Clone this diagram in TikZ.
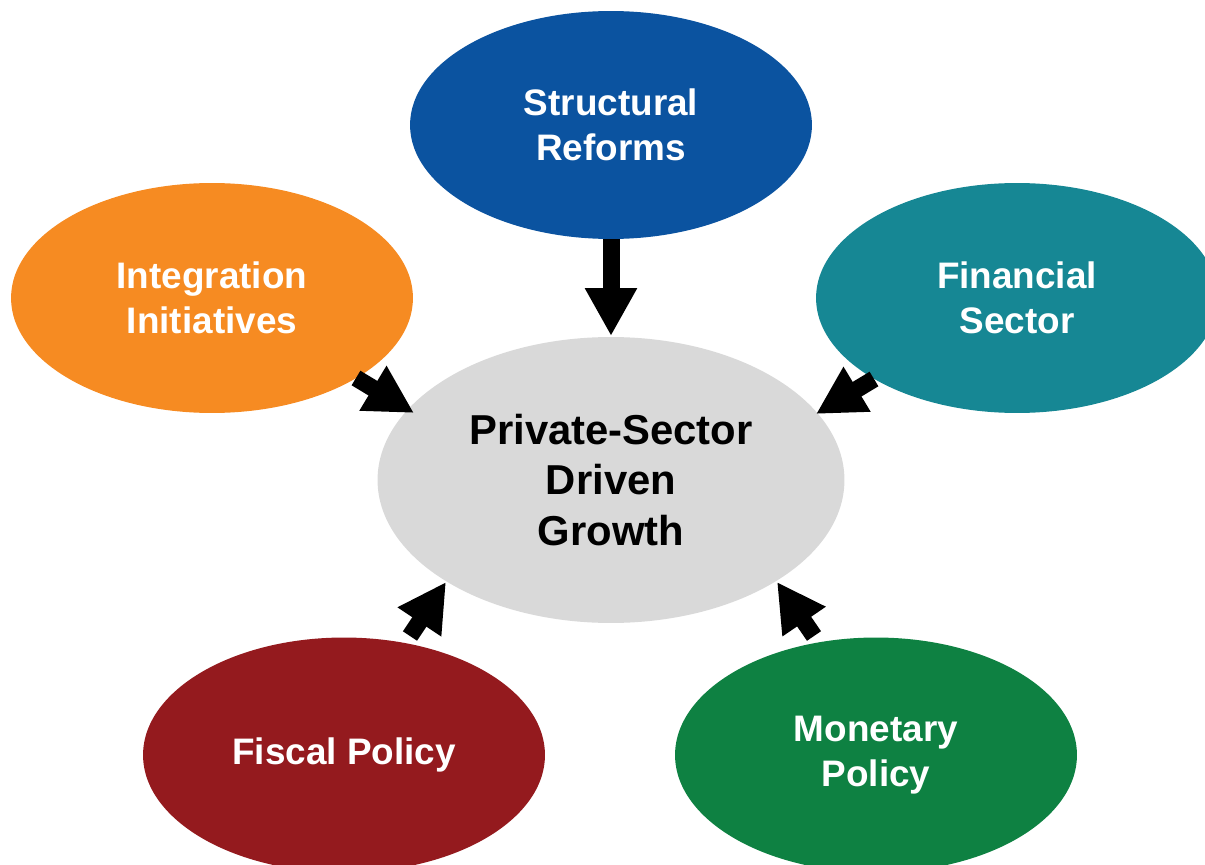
\documentclass[tikz,border=0pt]{standalone}
\usepackage{fontspec}
\setmainfont{Liberation Sans}
\usetikzlibrary{shapes.geometric,arrows.meta}
\definecolor{reformblue}{HTML}{0B53A0}
\definecolor{integorange}{HTML}{F68B22}
\definecolor{finteal}{HTML}{168794}
\definecolor{coregray}{HTML}{D9D9D9}
\definecolor{fiscalred}{HTML}{941A1E}
\definecolor{monetgreen}{HTML}{0E8142}
\tikzset{
  pillar/.style={ellipse, inner sep=0pt, minimum width=8.04cm, minimum height=4.6cm,
    text=white, font=\bfseries\fontsize{21}{25.5}\selectfont, align=center},
  core/.style={ellipse, fill=coregray, inner sep=0pt, minimum width=9.34cm, minimum height=5.72cm,
    text=black, font=\bfseries\fontsize{23.8}{28.5}\selectfont, align=center},
  push/.style={line width=0.34cm, line cap=butt, -{Triangle[width=0.98cm,length=0.96cm]}}
}
\begin{document}
\begin{tikzpicture}[x=0.02cm,y=-0.02cm]
\useasboundingbox (0,0) rectangle (1205,865);
\begin{scope}
\clip (0,0) rectangle (1205,865);
% outer policy ellipses
\node[pillar, fill=reformblue, minimum height=4.56cm] (sr) at (611,125) {Structural\\Reforms};
\node[pillar, fill=integorange] (ii) at (212,298) {Integration\\Initiatives};
\node[pillar, fill=finteal] (fs) at (1017,298) {Financial\\Sector};
\node[pillar, fill=fiscalred, minimum height=4.7cm] (fp) at (344,755) {Fiscal Policy};
\node[pillar, fill=monetgreen, minimum height=4.7cm] (mp) at (876,755) {Monetary\\Policy};
% central goal
\node[core] (pc) at (611,480) {Private-Sector\\Driven\\Growth};
\end{scope}
% arrow end points
\coordinate (iiT) at (356,378);
\coordinate (iiH) at (414,413);
\coordinate (fsT) at (874,379);
\coordinate (fsH) at (816,414);
\coordinate (fpT) at (410,636);
\coordinate (fpH) at (446,582);
\coordinate (mpT) at (814,636);
\coordinate (mpH) at (777,582);
\coordinate (srH) at (611,336);
% arrows into the centre
\draw[push] (sr.south) -- (srH);
\draw[push] (iiT) -- (iiH);
\draw[push] (fsT) -- (fsH);
\draw[push] (fpT) -- (fpH);
\draw[push] (mpT) -- (mpH);
\end{tikzpicture}
\end{document}
